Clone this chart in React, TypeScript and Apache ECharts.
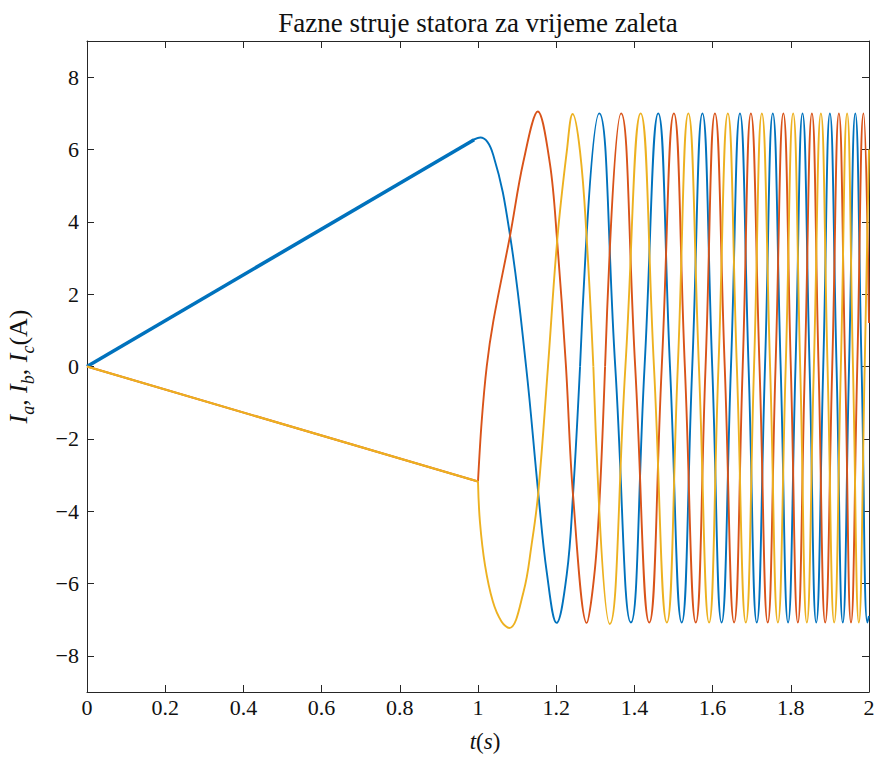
import React, { useEffect, useRef } from 'react';
import * as echarts from 'echarts';

// ---- data ----
const xTickValues = [0, 0.2, 0.4, 0.6, 0.8, 1, 1.2, 1.4, 1.6, 1.8, 2];
const yTickValues = [-8, -6, -4, -2, 0, 2, 4, 6, 8];

// start-up ramps (t in s, current in A)
const iaRamp: [number, number][] = [[0, 0], [0.99, 6.27]];
const ibRamp: [number, number][] = [[0, 0], [1.0, -3.18]];
const icRamp: [number, number][] = [[0, 0], [1.0, -3.18]];

// first, irregular swings after switching (extrema, zeros, phase crossings, shape points)
const iaStart: [number, number][] = [
  [0.97, 6.14], [1.006, 6.33], [1.039, 5.85], [1.082, 3.62], [1.123, 0], [1.154, -3.48],
  [1.176, -5.7], [1.201, -7.09], [1.227, -5.75], [1.243, -3.55], [1.261, 0],
];
const ibStart: [number, number][] = [
  [1.0, -3.18], [1.0094, -1.52], [1.0223, 0], [1.039, 1.24], [1.082, 3.62], [1.116, 5.66], [1.153, 7.05],
  [1.184, 5.6], [1.202, 3.54], [1.225, 0], [1.243, -3.55], [1.278, -7.09],
  [1.299, -5.6], [1.312, -3.45], [1.325, 0],
];
const icStart: [number, number][] = [
  [1.0, -3.18], [1.005, -4.3], [1.018, -5.5], [1.038, -6.5], [1.06, -7.05], [1.08, -7.23], [1.116, -6.25],
  [1.137, -4.93], [1.154, -3.5], [1.179, 0], [1.203, 3.54], [1.227, 5.94],
  [1.242, 6.98], [1.261, 5.94], [1.278, 3.54], [1.295, 0],
];

// steady oscillation: extrema and zero crossings
const iaWave: [number, number][] = [
  [1.261, 0], [1.31, 7.0], [1.351, 0], [1.391, -7.08], [1.426, 0], [1.461, 7.0], [1.491, 0],
  [1.521, -7.08], [1.548, 0], [1.574, 7.0], [1.599, 0], [1.623, -7.08], [1.647, 0], [1.67, 7.0],
  [1.692, 0], [1.713, -7.08], [1.734, 0], [1.754, 7.0], [1.774, 0], [1.793, -7.08], [1.812, 0],
  [1.83, 7.0], [1.848, 0], [1.865, -7.08], [1.883, 0], [1.9, 7.0], [1.917, 0], [1.933, -7.08],
  [1.949, 0], [1.965, 7.0], [1.981, 0], [1.996, -7.08], [2.0, -6.9],
];
const ibWave: [number, number][] = [
  [1.325, 0], [1.366, 7.0], [1.402, 0], [1.438, -7.08], [1.47, 0],
  [1.501, 7.0], [1.529, 0], [1.557, -7.08], [1.582, 0], [1.606, 7.0], [1.631, 0], [1.655, -7.08],
  [1.677, 0], [1.698, 7.0], [1.72, 0], [1.741, -7.08], [1.761, 0], [1.781, 7.0], [1.8, 0],
  [1.818, -7.08], [1.836, 0], [1.854, 7.0], [1.871, 0], [1.888, -7.08], [1.906, 0], [1.923, 7.0],
  [1.939, 0], [1.954, -7.08], [1.97, 0], [1.986, 7.0], [2.0, 1.2],
];
const icWave: [number, number][] = [
  [1.295, 0], [1.337, -7.12],
  [1.377, 0], [1.416, 7.0], [1.45, 0], [1.483, -7.08], [1.511, 0], [1.538, 7.0], [1.565, 0],
  [1.591, -7.08], [1.615, 0], [1.639, 7.0], [1.662, 0], [1.685, -7.08], [1.706, 0], [1.726, 7.0],
  [1.747, 0], [1.767, -7.08], [1.787, 0], [1.806, 7.0], [1.824, 0], [1.841, -7.08], [1.859, 0],
  [1.877, 7.0], [1.894, 0], [1.911, -7.08], [1.928, 0], [1.944, 7.0], [1.959, 0], [1.974, -7.08],
  [1.989, 0], [2.0, 6.0],
];

const titleText = 'Fazne struje statora za vrijeme zaleta';

const C_A = '#0072BD';
const C_B = '#D95319';
const C_C = '#EDB120';
const AXIS = '#262626';
const TXT = '#111111';
const FONT = '"Liberation Serif", "DejaVu Serif", serif';

function fmtNum(v: number): string {
  const r = Math.round(v * 10) / 10;
  return r < 0 ? '\u2212' + String(-r) : String(r);
}

export default function App() {
  const ref = useRef<HTMLDivElement>(null);
  useEffect(() => {
    if (!ref.current) return;
    const chart = echarts.init(ref.current, undefined, { renderer: 'svg' });
    const axisCommon = {
      type: 'value' as const,
      axisLine: { show: true, onZero: false, lineStyle: { color: AXIS, width: 1 } },
      splitLine: { show: false },
    };
    const line = (name: string, data: [number, number][], color: string, width: number, smooth: number) => ({
      type: 'line', name, data, showSymbol: false, symbol: 'none', smooth,
      lineStyle: { color, width }, itemStyle: { color }, clip: true, z: 2,
    });
    chart.setOption({
      animation: false,
      backgroundColor: '#ffffff',
      graphic: [
        {
          type: 'text', x: 478, y: 23, silent: true,
          style: {
            text: titleText, textAlign: 'center', textVerticalAlign: 'middle',
            fontFamily: FONT, fontSize: 27, fill: TXT,
          },
        },
      ],
      grid: { left: 87, right: 9, top: 41, bottom: 66, containLabel: false, outerBoundsMode: 'none' },
      xAxis: [
        {
          ...axisCommon, position: 'bottom', min: 0, max: 2, interval: 0.2,
          axisTick: { show: true, inside: true, length: 7, lineStyle: { color: AXIS } },
          axisLabel: { show: true, margin: 4, fontFamily: FONT, fontSize: 22, color: TXT, formatter: (v: number) => fmtNum(v), customValues: xTickValues },
          name: '{i|t}{n|(}{i|s}{n|)}', nameLocation: 'middle', nameGap: 38,
          nameTextStyle: {
            fontFamily: FONT, fontSize: 23, color: TXT, padding: [0, 0, 0, 14],
            rich: {
              i: { fontFamily: FONT, fontSize: 23, fontStyle: 'italic', color: TXT },
              n: { fontFamily: FONT, fontSize: 23, color: TXT },
            },
          },
        },
        {
          ...axisCommon, position: 'top', min: 0, max: 2, interval: 0.2,
          axisTick: { show: true, inside: true, length: 7, lineStyle: { color: AXIS } },
          axisLabel: { show: false },
        },
      ],
      yAxis: [
        {
          ...axisCommon, position: 'left', min: -9, max: 9,
          axisTick: { show: true, inside: true, length: 7, lineStyle: { color: AXIS }, customValues: yTickValues },
          axisLabel: { show: true, margin: 8, fontFamily: FONT, fontSize: 22, color: TXT, formatter: (v: number) => fmtNum(v), customValues: yTickValues },
          name: '{i|I}{s|a}{n|, }{i|I}{s|b}{n|, }{i|I}{s|c}{n|(A)}', nameLocation: 'middle', nameGap: 50,
          nameTextStyle: {
            fontFamily: FONT, fontSize: 26, color: TXT,
            rich: {
              i: { fontFamily: FONT, fontSize: 26, fontStyle: 'italic', color: TXT, lineHeight: 32, verticalAlign: 'top' },
              s: { fontFamily: FONT, fontSize: 18, fontStyle: 'italic', color: TXT, verticalAlign: 'bottom' },
              n: { fontFamily: FONT, fontSize: 26, color: TXT, lineHeight: 32, verticalAlign: 'top' },
            },
          },
        },
        {
          ...axisCommon, position: 'right', min: -9, max: 9,
          axisTick: { show: true, inside: true, length: 7, lineStyle: { color: AXIS }, customValues: yTickValues },
          axisLabel: { show: false, customValues: yTickValues },
        },
      ],
      series: [
        line('Ia', iaRamp, C_A, 3.6, 0),
        line('Ia', iaStart, C_A, 1.9, 0.4),
        line('Ia', iaWave, C_A, 1.9, 0.5),
        line('Ib', ibRamp, C_B, 2, 0),
        line('Ib', ibStart, C_B, 1.9, 0.35),
        line('Ib', ibWave, C_B, 1.9, 0.5),
        line('Ic', icRamp, C_C, 2, 0),
        line('Ic', icStart, C_C, 1.9, 0.4),
        line('Ic', icWave, C_C, 1.9, 0.5),
      ],
    });
    return () => chart.dispose();
  }, []);
  return (
    <div
      ref={ref}
      style={{ position: 'fixed', left: 0, top: 0, width: 878, height: 758, background: '#fff' }}
    />
  );
}
